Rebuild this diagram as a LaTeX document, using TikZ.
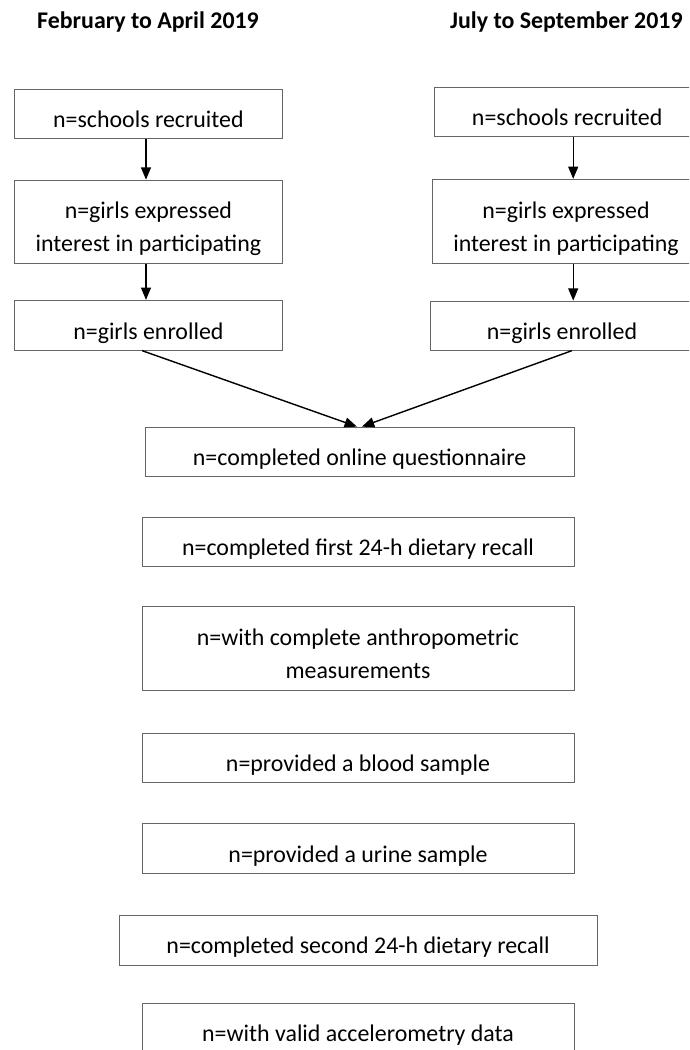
\documentclass[tikz,border=0pt]{standalone}
\usepackage{fontspec}
\setmainfont{Carlito}
\usetikzlibrary{arrows}
\definecolor{boxgray}{rgb}{0.40, 0.40, 0.40}

\begin{document}
\begin{tikzpicture}
    [box/.style={rectangle,draw=boxgray,line width=0.6pt,inner sep=0pt,align=center,
        font=\fontsize{17}{23.5}\selectfont,text height=21.9pt,text depth=2.2pt},
     twobox/.style={box,text height=45.4pt},
     flow/.style={-{triangle 45[scale=1.2]},line width=1pt,black}]

\clip (0,0) rectangle (17.225,-26.25);
\fill[white] (0,0) rectangle (17.225,-26.25);

\path (3.7,-0.55) node[font=\fontsize{17}{20}\selectfont\bfseries] (lhead) {February to April 2019};
\path (14.16,-0.55) node[font=\fontsize{17}{20}\selectfont\bfseries] (rhead) {July to September 2019};

\node[box,minimum width=6.68cm,minimum height=1.23cm] (l1) at (3.71,-2.84) {n=schools recruited};
\node[twobox,minimum width=6.68cm,minimum height=2.08cm] (l2) at (3.71,-5.54) {n=girls expressed\\interest in participating};
\node[box,minimum width=6.68cm,minimum height=1.25cm] (l3) at (3.71,-8.13) {n=girls enrolled};

\node[box,minimum width=6.65cm,minimum height=1.23cm] (r1) at (14.18,-2.8) {n=schools recruited};
\node[twobox,minimum width=6.7cm,minimum height=2.1cm] (r2) at (14.15,-5.53) {n=girls expressed\\interest in participating};
\node[box,minimum width=6.6cm,minimum height=1.23cm] (r3) at (14.05,-8.14) {n=girls enrolled};

\node[box,minimum width=10.73cm,minimum height=1.23cm] (c1) at (8.99,-11.29) {n=completed online questionnaire};
\node[box,minimum width=10.8cm,minimum height=1.23cm] (c2) at (8.95,-13.54) {n=completed first 24-h dietary recall};
\node[twobox,minimum width=10.8cm,minimum height=2.1cm] (c3) at (8.95,-16.2) {n=with complete anthropometric\\measurements};
\node[box,minimum width=10.8cm,minimum height=1.23cm] (c4) at (8.95,-18.94) {n=provided a blood sample};
\node[box,minimum width=10.8cm,minimum height=1.23cm] (c5) at (8.95,-21.21) {n=provided a urine sample};
\node[box,minimum width=11.95cm,minimum height=1.25cm] (c6) at (8.95,-23.5) {n=completed second 24-h dietary recall};
\node[box,minimum width=10.8cm,minimum height=1.23cm] (c7) at (8.95,-25.69) {n=with valid accelerometry data};

\coordinate (lx) at (3.65,0);
\coordinate (rx) at (14.33,0);
\draw[flow] (l1.south -| lx) -- (l2.north -| lx);
\draw[flow] (l2.south -| lx) -- (l3.north -| lx);
\draw[flow] (r1.south -| rx) -- (r2.north -| rx);
\draw[flow] (r2.south -| rx) -- (r3.north -| rx);

\draw[flow] ([xshift=-0.16cm]l3.south) -- ([xshift=-0.07cm]c1.north);
\draw[flow] ([xshift=0.25cm]r3.south) -- ([xshift=0.06cm]c1.north);

  \end{tikzpicture}
\end{document}
